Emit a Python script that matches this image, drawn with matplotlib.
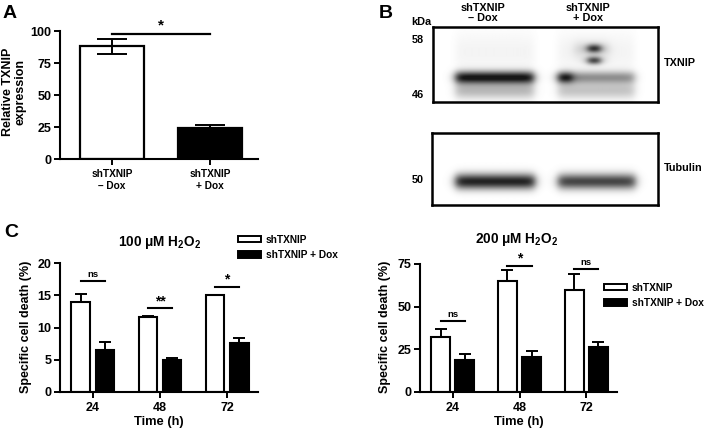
import numpy as np
import matplotlib
matplotlib.use('Agg')
import matplotlib.pyplot as plt
from matplotlib.patches import Patch

plt.rcParams['font.family'] = ['Liberation Sans', 'DejaVu Sans']
plt.rcParams['font.weight'] = 'bold'
plt.rcParams['axes.labelweight'] = 'bold'
plt.rcParams['mathtext.fontset'] = 'custom'
plt.rcParams['mathtext.rm'] = 'Liberation Sans:bold'
plt.rcParams['mathtext.bf'] = 'Liberation Sans:bold'

W, H = 709, 432

# ---- Panel A data ----
a_labels = ['shTXNIP\n\u2013 Dox', 'shTXNIP\n+ Dox']
a_values = [88, 24.5]
a_err = [6, 2]
a_colors = ['white', 'black']
a_sig = 98

# ---- Panel B data (blot bands) ----
b_lanes = ['shTXNIP\n\u2013 Dox', 'shTXNIP\n+ Dox']
b_lane_x = [(22, 100), (124, 200)]        # lane extents in box pixels
txnip_band = [1.0, 0.45]                  # main band darkness per lane
txnip_smear = [0.3, 0.25]
tubulin_band = [0.95, 0.8]
kda_top = ['58', '46']
kda_bottom = ['50']

# ---- Panel C data ----
times = ['24', '48', '72']
c100_ctrl = [14.0, 11.6, 15.0]
c100_ctrl_err = [1.2, 0.25, 0.1]
c100_dox = [6.5, 5.0, 7.6]
c100_dox_err = [1.3, 0.3, 0.8]
c100_sig = ['ns', '**', '*']
c100_sig_y = [17.2, 13.0, 16.3]

c200_ctrl = [32.5, 65.0, 59.5]
c200_ctrl_err = [4.5, 6.5, 9.5]
c200_dox = [18.5, 20.5, 26.5]
c200_dox_err = [4.0, 3.5, 3.0]
c200_sig = ['ns', '*', 'ns']
c200_sig_y = [41.5, 74.0, 72.0]


def rect(x0, y0, x1, y1):
  # pixel box (top-left origin) -> figure fraction
  return [x0 / W, 1 - y1 / H, (x1 - x0) / W, (y1 - y0) / H]


def ftext(x, y, s, **kw):
  fig.text(x / W, 1 - y / H, s, **kw)


def style_axis(ax):
  for side in ['top', 'right']:
    ax.spines[side].set_visible(False)
  for side in ['left', 'bottom']:
    ax.spines[side].set_linewidth(1.5)
  ax.tick_params(width=1.4, length=4, labelsize=9, pad=2)


fig = plt.figure(figsize=(W / 100, H / 100), dpi=100)

# ================= Panel A =================
axA = fig.add_axes(rect(60, 31, 258, 159))
xa = np.arange(len(a_values))
axA.bar(xa, a_values, width=0.66, color=a_colors, edgecolor='black', linewidth=1.6)
axA.errorbar(xa[0], a_values[0], yerr=a_err[0], color='black', capsize=11, elinewidth=1.4, capthick=1.4)
axA.errorbar(xa[1], a_values[1], yerr=[[0], [a_err[1]]], color='black', capsize=11, elinewidth=1.4, capthick=1.4)
axA.plot([0, 1], [a_sig, a_sig], color='black', lw=1.6, clip_on=False)
axA.text(0.5, a_sig + 0.5, '*', ha='center', va='bottom', fontsize=11)
axA.set_ylim(0, 100)
axA.set_xlim(-0.53, 1.49)
axA.set_yticks([0, 25, 50, 75, 100])
axA.set_xticks(xa)
axA.set_xticklabels(a_labels, linespacing=1.25)
style_axis(axA)
axA.tick_params(axis='x', labelsize=7.3, pad=3)
ftext(14, 92, 'Relative TXNIP\nexpression', rotation=90, ha='center', va='center', fontsize=9, linespacing=1.05)
ftext(3, 13, 'A', fontsize=14, va='center')

# ================= Panel B =================
def draw_blot(box, bands):
  ax = fig.add_axes(rect(*box))
  w = box[2] - box[0]
  h = box[3] - box[1]
  xx, yy = np.meshgrid(np.arange(w), np.arange(h))
  img = np.zeros((h, w))
  for (x0, x1, yc, thick, dark) in bands:
    xprof = 1 / (1 + np.exp(-(xx - x0) / 2.5)) * 1 / (1 + np.exp((xx - x1) / 2.5))
    yprof = np.exp(-0.5 * ((yy - yc) / thick) ** 2)
    img += dark * xprof * yprof
  ax.imshow(np.clip(img, 0, 1), cmap='gray_r', vmin=0, vmax=1.1, aspect='auto',
            interpolation='bilinear')
  ax.set_xticks([])
  ax.set_yticks([])
  for s in ax.spines.values():
    s.set_linewidth(1.8)
  return ax

top_bands = []
for i, (x0, x1) in enumerate(b_lane_x):
  top_bands.append((x0, x1, 50, 4.5, txnip_band[i]))
  top_bands.append((x0, x1, 63, 6.0, txnip_smear[i]))
  top_bands.append((x0, x1, 25, 14.0, 0.05))
top_bands.append((b_lane_x[1][0], b_lane_x[1][0] + 14, 50, 4.0, 0.6))
top_bands.append((154, 166, 21, 3.0, 0.85))
top_bands.append((154, 166, 33, 2.8, 0.85))
top_bands.append((140, 175, 22, 6.0, 0.12))
draw_blot((433, 27, 658, 102), top_bands)

bot_bands = []
for i, (x0, x1) in enumerate(b_lane_x):
  bot_bands.append((x0 + 1, x1 + 2, 48, 5.5, tubulin_band[i]))
draw_blot((432, 133, 658, 205), bot_bands)

ftext(379, 13, 'B', fontsize=14, va='center')
ftext(411, 22, 'kDa', fontsize=7.8, va='center')
for lab, y in zip(kda_top, [40, 95]):
  ftext(412, y, lab, fontsize=7.8, va='center')
ftext(412, 180, kda_bottom[0], fontsize=7.8, va='center')
for lab, x in zip(b_lanes, [483, 588]):
  ftext(x, 13, lab, fontsize=7.8, ha='center', va='center', linespacing=0.95)
ftext(664, 63, 'TXNIP', fontsize=7.8, va='center')
ftext(664, 168, 'Tubulin', fontsize=7.8, va='center')

# ================= Panel C =================
def panel_c(box, ctrl, ctrl_err, dox, dox_err, sig, sig_y, ymax, yticks, title, title_xy, leg_xy):
  ax = fig.add_axes(rect(*box))
  x = np.arange(len(times))
  off, bw = 0.18, 0.28
  ax.bar(x - off, ctrl, width=bw, color='white', edgecolor='black', linewidth=1.5, label='shTXNIP')
  ax.bar(x + off, dox, width=bw, color='black', edgecolor='black', linewidth=1.5, label='shTXNIP + Dox')
  ax.errorbar(x - off, ctrl, yerr=[np.zeros(3), ctrl_err], fmt='none', ecolor='black',
              capsize=4.5, elinewidth=1.4, capthick=1.4)
  ax.errorbar(x + off, dox, yerr=[np.zeros(3), dox_err], fmt='none', ecolor='black',
              capsize=4.5, elinewidth=1.4, capthick=1.4)
  for i in range(len(times)):
    ax.plot([x[i] - off, x[i] + off], [sig_y[i], sig_y[i]], color='black', lw=1.5, clip_on=False)
    fs = 6.8 if sig[i] == 'ns' else 10
    dy = 0.015 if sig[i] == 'ns' else 0.0
    ax.text(x[i], sig_y[i] + ymax * dy, sig[i], ha='center', va='bottom', fontsize=fs)
  ax.set_ylim(0, ymax)
  ax.set_xlim(-0.49, 2.46)
  ax.set_yticks(yticks)
  ax.set_xticks(x)
  ax.set_xticklabels(times)
  style_axis(ax)
  ax.tick_params(axis='x', labelsize=9, pad=3)
  ax.tick_params(axis='y', labelsize=9)
  ax.set_xlabel('Time (h)', fontsize=9.3, labelpad=2)
  ftext(title_xy[0], title_xy[1], title, fontsize=9.8, ha='center', va='center')
  handles = [Patch(facecolor='white', edgecolor='black', linewidth=1.4),
             Patch(facecolor='black', edgecolor='black', linewidth=1.4)]
  fig.legend(handles, ['shTXNIP', 'shTXNIP + Dox'], loc='upper left',
             bbox_to_anchor=(leg_xy[0] / W, 1 - leg_xy[1] / H), frameon=False,
             fontsize=7.3, handlelength=2.3, handleheight=0.55, handletextpad=0.45,
             labelspacing=0.5, borderpad=0, borderaxespad=0)
  return ax

panel_c((60, 263, 258, 392), c100_ctrl, c100_ctrl_err, c100_dox, c100_dox_err,
        c100_sig, c100_sig_y, 20, [0, 5, 10, 15, 20],
        '100 \u03bcM H$_\\mathregular{2}$O$_\\mathregular{2}$', (160, 242), (238, 235))
panel_c((420, 264, 617, 392), c200_ctrl, c200_ctrl_err, c200_dox, c200_dox_err,
        c200_sig, c200_sig_y, 75, [0, 25, 50, 75],
        '200 \u03bcM H$_\\mathregular{2}$O$_\\mathregular{2}$', (517, 240), (604, 283))

ftext(26, 327, 'Specific cell death (%)', rotation=90, ha='center', va='center', fontsize=9)
ftext(385, 327, 'Specific cell death (%)', rotation=90, ha='center', va='center', fontsize=9)
ftext(4, 232, 'C', fontsize=14, va='center')

fig.savefig('out.png', dpi=100)
